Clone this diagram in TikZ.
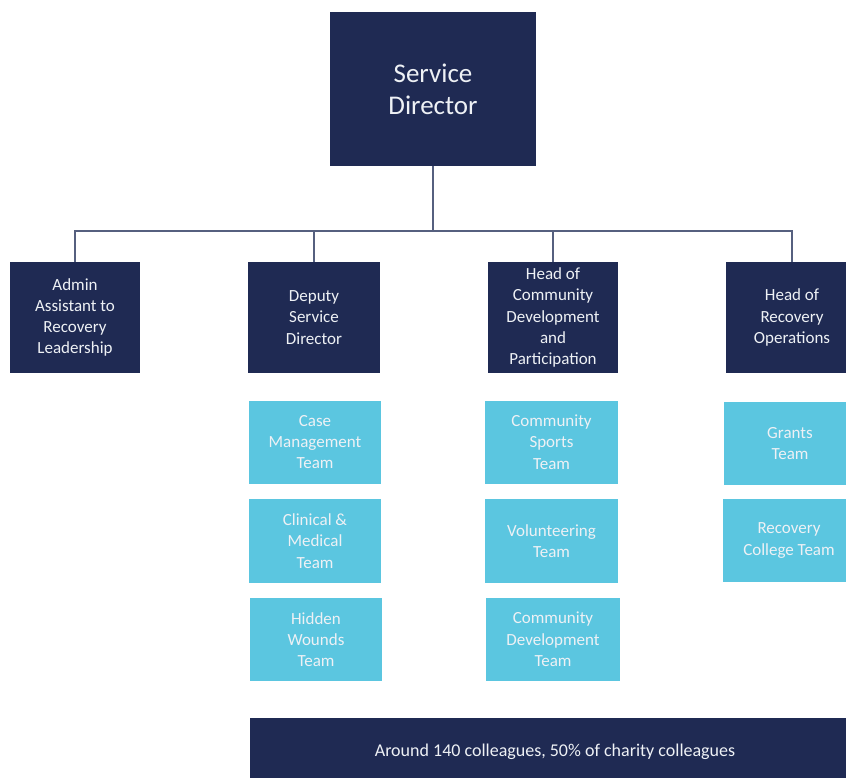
\documentclass[tikz,border=0pt]{standalone}
\usepackage{fontspec}
\setmainfont{Carlito}
\definecolor{navy}{HTML}{1F2A53}
\definecolor{teamblue}{HTML}{5BC6E0}
\definecolor{linkgrey}{HTML}{56607F}
\definecolor{boxtext}{HTML}{EEF1F5}
\begin{document}
\begin{tikzpicture}[x=1pt,y=-1pt,
  base/.style={inner sep=0pt, align=center, text=boxtext,
    font=\fontsize{17}{21.3}\selectfont},
  lead/.style={base, fill=navy, minimum height=111pt},
  team/.style={base, fill=teamblue, minimum width=132pt},
  link/.style={draw=linkgrey, line width=1.6pt}]
  \clip (0,0) rectangle (846,778);
  \useasboundingbox (0,0) rectangle (846,778);

  % top of the chart
  \node[base, fill=navy, minimum width=206pt, minimum height=154pt,
        font=\fontsize{27}{32}\selectfont] (sd) at (433,89) {Service\\Director};

  % second tier
  \node[lead, minimum width=130pt] (admin)  at (75,317.5)  {Admin\\Assistant to\\Recovery\\Leadership};
  \node[lead, minimum width=132pt] (deputy) at (314,317.5) {Deputy\\Service\\Director};
  \node[lead, minimum width=130pt] (headcd) at (553,317.5) {Head of\\Community\\Development\\and\\Participation};
  \node[lead, minimum width=132pt] (headro) at (792,317.5) {Head of\\Recovery\\Operations};

  % teams under each lead
  \node[team, minimum height=83pt] (case)      at (315,442)   {Case\\Management\\Team};
  \node[team, minimum height=84pt] (clinical)  at (315,541)   {Clinical \&\\Medical\\Team};
  \node[team, minimum height=83pt] (hidden)    at (316,639.5) {Hidden\\Wounds\\Team};
  \node[team, minimum height=83pt, minimum width=133pt] (sports)    at (551.5,442)   {Community\\Sports\\Team};
  \node[team, minimum height=84pt, minimum width=133pt] (volunteer) at (551.5,541)   {Volunteering\\Team};
  \node[team, minimum height=83pt, minimum width=134pt] (commdev)   at (553,639.5)   {Community\\Development\\Team};
  \node[team, minimum height=83pt] (grants)  at (790,443.5) {Grants\\Team};
  \node[team, minimum height=83pt] (college) at (789,540.5) {Recovery\\College Team};

  % summary bar
  \node[base, fill=navy, minimum width=610pt, minimum height=72pt] (bar) at (555,754) {};
  \node[base, font=\fontsize{18}{21}\selectfont] (barlabel) at (555,752) {Around 140 colleagues, 50\% of charity colleagues};

  % reporting lines
  \coordinate (bus) at (433,231);
  \draw[link] (admin.north) |- (bus) -| (headro.north);
  \draw[link] (deputy.north) -- (deputy.north |- bus);
  \draw[link] (headcd.north) -- (headcd.north |- bus);
  \draw[link] (sd.south) -- (bus);
\end{tikzpicture}
\end{document}
